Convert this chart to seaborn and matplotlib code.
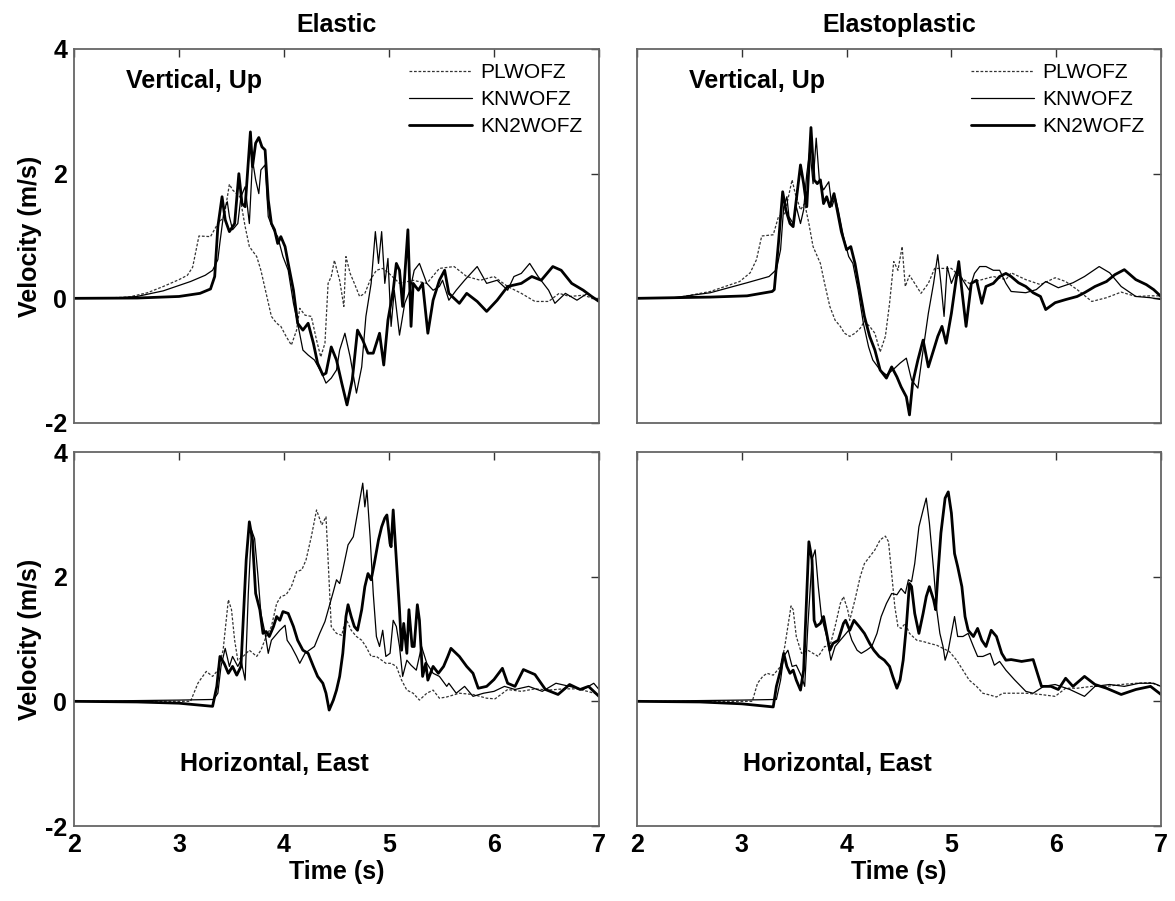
import matplotlib
matplotlib.use("Agg")
import matplotlib.pyplot as plt
import seaborn as sns
import pandas as pd

# ---------------- data (time s, velocity m/s) ----------------
# Elastic, vertical
EV_PL = [(2.0,0),(2.3,0.005),(2.52,0.02),(2.7,0.09),(2.85,0.19),(3.0,0.3),(3.08,0.37),(3.13,0.5),(3.19,1.0),(3.3,0.99),
         (3.37,1.2),(3.43,1.31),(3.48,1.83),(3.51,1.74),(3.58,1.63),(3.63,1.15),(3.67,0.83),(3.74,0.67),(3.78,0.45),(3.83,0.08),
         (3.88,-0.29),(3.93,-0.4),(3.97,-0.45),(4.02,-0.61),(4.07,-0.75),(4.12,-0.51),(4.15,-0.16),(4.2,-0.27),(4.26,-0.29),(4.31,-0.67),
         (4.35,-0.94),(4.39,-0.72),(4.42,0.24),(4.45,0.35),(4.48,0.61),(4.53,0.29),(4.57,-0.13),(4.59,0.67),(4.63,0.4),(4.67,0.24),
         (4.72,0.03),(4.77,0.08),(4.82,0.29),(4.88,0.45),(4.94,0.48),(5.0,0.4),(5.1,0.24),(5.23,0.29),(5.36,0.24),(5.48,0.48),
         (5.62,0.51),(5.74,0.35),(5.87,0.29),(6.0,0.35),(6.13,0.19),(6.26,0.08),(6.39,-0.05),(6.52,-0.05),(6.62,0.08),(6.72,0.03),
         (6.85,0.05),(7.0,-0.03)]
EV_KN = [(2.0,0),(2.4,0.005),(2.6,0.03),(2.85,0.12),(3.11,0.27),(3.25,0.37),(3.32,0.45),(3.37,0.62),(3.39,0.9),(3.43,1.42),
         (3.46,1.55),(3.48,1.31),(3.51,1.1),(3.56,1.2),(3.59,1.63),(3.63,1.79),(3.67,1.2),(3.7,2.22),(3.73,1.9),(3.76,1.68),
         (3.78,2.06),(3.82,2.14),(3.85,1.31),(3.9,1.1),(3.94,0.99),(3.99,0.67),(4.04,0.45),(4.09,-0.08),(4.13,-0.4),(4.18,-0.83),
         (4.23,-0.91),(4.29,-0.99),(4.36,-1.2),(4.4,-1.36),(4.45,-1.28),(4.5,-1.15),(4.53,-0.83),(4.58,-0.56),(4.63,-0.94),(4.69,-1.52),
         (4.74,-1.1),(4.78,-0.29),(4.83,0.24),(4.87,1.07),(4.9,0.56),(4.93,1.07),(4.96,0.24),(4.99,0.64),(5.02,-0.45),(5.05,0.13),
         (5.1,-0.59),(5.15,-0.08),(5.2,0.13),(5.24,0.45),(5.29,0.56),(5.36,0.24),(5.42,0.13),(5.48,0.19),(5.51,0.29),(5.57,-0.03),
         (5.64,0.13),(5.72,0.29),(5.84,0.51),(5.93,0.24),(6.03,0.29),(6.13,0.13),(6.19,0.35),(6.26,0.4),(6.34,0.56),(6.42,0.35),
         (6.52,0.13),(6.58,-0.08),(6.68,0.08),(6.79,-0.03),(6.89,0.08),(7.0,-0.05)]
EV_KN2 = [(2.0,0),(2.6,0.005),(3.0,0.03),(3.2,0.08),(3.3,0.15),(3.34,0.35),(3.37,1.15),(3.41,1.63),(3.44,1.26),(3.48,1.07),
          (3.53,1.2),(3.57,2.0),(3.6,1.52),(3.63,1.47),(3.68,2.67),(3.7,2.11),(3.73,2.49),(3.76,2.58),(3.79,2.43),(3.82,2.38),
          (3.85,1.58),(3.88,1.2),(3.91,1.1),(3.94,0.88),(3.97,0.99),(4.01,0.83),(4.04,0.56),(4.09,0.13),(4.13,-0.4),(4.18,-0.51),
          (4.23,-0.4),(4.28,-0.72),(4.32,-1.04),(4.37,-1.23),(4.4,-1.2),(4.45,-0.78),(4.5,-0.99),(4.55,-1.36),(4.6,-1.71),(4.65,-1.31),
          (4.7,-0.51),(4.75,-0.67),(4.8,-0.88),(4.85,-0.88),(4.91,-0.56),(4.95,-1.07),(4.99,-0.35),(5.04,0.13),(5.07,0.56),(5.1,0.45),
          (5.13,-0.13),(5.18,1.1),(5.21,-0.45),(5.23,0.24),(5.28,0.13),(5.32,0.24),(5.37,-0.56),(5.42,-0.03),(5.48,0.29),(5.53,0.45),
          (5.57,0.08),(5.67,-0.08),(5.74,0.08),(5.84,-0.05),(5.93,-0.21),(6.03,-0.03),(6.13,0.19),(6.26,0.24),(6.36,0.35),(6.45,0.29),
          (6.56,0.51),(6.64,0.45),(6.74,0.24),(6.85,0.13),(6.93,0.03),(7.0,-0.05)]

# Elastoplastic, vertical
EP_PL = [(2.0,0),(2.35,0.0),(2.7,0.11),(2.98,0.27),(3.08,0.41),(3.14,0.62),(3.19,1.0),(3.3,1.02),(3.35,1.31),(3.41,1.36),
         (3.48,1.9),(3.51,1.68),(3.56,1.42),(3.6,1.52),(3.64,1.2),(3.68,0.83),(3.75,0.56),(3.79,0.24),(3.84,-0.13),(3.89,-0.35),
         (3.94,-0.45),(3.98,-0.56),(4.03,-0.61),(4.08,-0.56),(4.13,-0.48),(4.17,-0.37),(4.22,-0.45),(4.27,-0.56),(4.32,-0.86),(4.37,-0.61),
         (4.41,-0.08),(4.45,0.59),(4.49,0.45),(4.53,0.83),(4.56,0.19),(4.6,0.37),(4.65,0.24),(4.71,0.08),(4.78,0.24),(4.84,0.48),
         (4.92,0.48),(5.0,0.48),(5.08,0.35),(5.17,0.24),(5.27,0.29),(5.4,0.35),(5.52,0.3),(5.57,0.41),(5.71,0.3),(5.85,0.22),
         (5.99,0.33),(6.09,0.27),(6.2,0.14),(6.34,-0.05),(6.48,0.01),(6.62,0.1),(6.76,0.03),(6.9,0.04),(7.0,0.04)]
EP_KN = [(2.0,0),(2.35,0.01),(2.7,0.09),(3.05,0.25),(3.26,0.35),(3.33,0.46),(3.37,0.78),(3.4,1.47),(3.43,1.63),(3.45,1.31),
         (3.49,1.2),(3.52,1.47),(3.56,1.2),(3.59,1.42),(3.62,2.0),(3.65,2.38),(3.68,1.84),(3.71,2.57),(3.74,1.9),(3.78,1.74),
         (3.83,1.87),(3.86,1.47),(3.89,1.63),(3.92,1.42),(3.97,0.99),(4.02,0.67),(4.06,0.56),(4.11,0.13),(4.16,-0.4),(4.21,-0.78),
         (4.25,-0.99),(4.32,-1.15),(4.38,-1.23),(4.44,-1.15),(4.51,-1.04),(4.57,-0.96),(4.62,-1.31),(4.68,-1.44),(4.73,-0.83),(4.78,-0.24),
         (4.83,0.24),(4.87,0.7),(4.9,0.24),(4.93,-0.29),(4.96,0.51),(5.0,0.24),(5.05,0.45),(5.11,0.29),(5.17,0.13),(5.22,0.4),
         (5.27,0.51),(5.33,0.51),(5.4,0.45),(5.46,0.45),(5.52,0.24),(5.57,0.11),(5.71,0.09),(5.81,0.14),(5.9,0.27),(6.02,0.17),
         (6.16,0.25),(6.27,0.35),(6.41,0.51),(6.51,0.41),(6.62,0.19),(6.76,0.03),(6.9,0.01),(7.0,-0.02)]
EP_KN2 = [(2.0,0),(2.7,0.02),(3.05,0.04),(3.29,0.11),(3.31,0.14),(3.35,0.89),(3.39,1.71),(3.42,1.42),(3.46,1.2),(3.49,1.15),
          (3.52,1.58),(3.56,2.14),(3.59,1.84),(3.62,1.47),(3.66,2.74),(3.69,1.9),(3.72,1.84),(3.75,1.9),(3.78,1.52),(3.81,1.63),
          (3.84,1.47),(3.88,1.68),(3.91,1.42),(3.95,1.07),(4.0,0.78),(4.04,0.83),(4.08,0.56),(4.13,0.08),(4.17,-0.29),(4.22,-0.61),
          (4.27,-0.83),(4.32,-1.15),(4.38,-1.28),(4.43,-1.1),(4.48,-1.26),(4.52,-1.42),(4.57,-1.58),(4.6,-1.87),(4.63,-1.36),(4.68,-0.99),
          (4.73,-0.67),(4.78,-1.1),(4.83,-0.83),(4.87,-0.61),(4.91,-0.45),(4.95,-0.72),(5.0,-0.24),(5.04,0.24),(5.07,0.59),(5.1,0.13),
          (5.14,-0.45),(5.19,0.24),(5.24,0.29),(5.29,-0.08),(5.33,0.19),(5.4,0.24),(5.46,0.35),(5.52,0.4),(5.57,0.35),(5.64,0.25),
          (5.71,0.19),(5.78,0.09),(5.85,0.03),(5.9,-0.18),(5.99,-0.07),(6.09,-0.02),(6.2,0.03),(6.27,0.09),(6.37,0.19),(6.48,0.27),
          (6.56,0.38),(6.65,0.46),(6.76,0.3),(6.86,0.22),(6.93,0.14),(7.0,0.03)]

# Elastic, horizontal east
EH_PL = [(2.0,0),(3.11,0),(3.18,0.29),(3.2,0.34),(3.26,0.48),(3.32,0.4),(3.37,0.5),(3.42,0.82),(3.47,1.63),(3.5,1.47),
         (3.53,0.98),(3.56,0.66),(3.61,0.72),(3.67,0.82),(3.74,0.72),(3.78,0.82),(3.83,1.04),(3.88,1.2),(3.93,1.57),(3.97,1.68),
         (4.02,1.71),(4.07,1.84),(4.12,2.08),(4.17,2.11),(4.21,2.27),(4.26,2.64),(4.31,3.07),(4.36,2.83),(4.4,2.96),(4.42,2.27),
         (4.45,1.2),(4.5,1.09),(4.55,1.06),(4.59,1.33),(4.64,1.14),(4.69,1.04),(4.74,0.98),(4.78,0.88),(4.83,0.72),(4.88,0.72),
         (4.93,0.66),(4.97,0.61),(5.02,0.61),(5.07,0.56),(5.12,0.34),(5.17,0.18),(5.23,0.13),(5.29,0.02),(5.36,0.13),(5.42,0.18),
         (5.48,0.05),(5.55,0.07),(5.67,0.13),(5.8,0.11),(5.93,0.05),(6.01,0.04),(6.13,0.19),(6.26,0.16),(6.39,0.2),(6.52,0.18),
         (6.66,0.2),(6.79,0.2),(6.89,0.16),(7.0,0.11)]
EH_KN = [(2.0,0),(3.0,0.02),(3.33,0.03),(3.37,0.13),(3.4,0.56),(3.44,0.85),(3.48,0.56),(3.51,0.72),(3.56,0.56),(3.59,0.66),
         (3.63,0.34),(3.66,1.73),(3.69,2.75),(3.72,2.61),(3.75,2.05),(3.78,1.41),(3.82,1.09),(3.85,0.77),(3.88,0.98),(3.91,1.04),
         (3.96,1.14),(4.01,1.22),(4.03,0.98),(4.07,0.88),(4.12,0.72),(4.15,0.61),(4.2,0.77),(4.24,0.82),(4.29,0.88),(4.34,1.09),
         (4.39,1.28),(4.43,1.52),(4.47,1.76),(4.5,1.95),(4.53,1.89),(4.56,2.11),(4.61,2.51),(4.66,2.64),(4.7,3.02),(4.75,3.5),
         (4.77,3.12),(4.79,3.39),(4.82,2.64),(4.85,1.73),(4.88,1.04),(4.91,0.88),(4.94,1.14),(4.97,0.72),(5.01,0.77),(5.04,1.3),
         (5.07,1.2),(5.1,0.88),(5.13,0.4),(5.17,0.66),(5.21,0.58),(5.26,0.5),(5.31,0.88),(5.36,0.61),(5.42,0.45),(5.48,0.4),
         (5.55,0.24),(5.57,0.29),(5.64,0.13),(5.72,0.24),(5.8,0.08),(5.9,0.13),(6.0,0.16),(6.1,0.24),(6.2,0.19),(6.33,0.24),
         (6.46,0.16),(6.59,0.29),(6.72,0.24),(6.85,0.19),(6.95,0.29),(7.0,0.19)]
EH_KN2 = [(2.0,0),(2.6,-0.01),(3.0,-0.03),(3.32,-0.08),(3.36,0.24),(3.39,0.72),(3.43,0.61),(3.47,0.45),(3.51,0.56),(3.55,0.42),
          (3.59,0.56),(3.64,2.27),(3.67,2.88),(3.7,2.59),(3.73,1.73),(3.77,1.47),(3.8,1.09),(3.83,1.12),(3.86,1.04),(3.9,1.2),
          (3.93,1.36),(3.96,1.3),(3.99,1.44),(4.04,1.41),(4.09,1.2),(4.13,0.98),(4.18,0.82),(4.23,0.77),(4.28,0.56),(4.32,0.4),
          (4.37,0.29),(4.4,0.13),(4.43,-0.14),(4.47,0.02),(4.5,0.18),(4.53,0.4),(4.56,0.77),(4.59,1.36),(4.61,1.55),(4.64,1.36),
          (4.67,1.2),(4.7,1.14),(4.74,1.47),(4.77,1.84),(4.8,2.05),(4.83,1.95),(4.86,2.21),(4.9,2.59),(4.93,2.8),(4.96,2.94),
          (4.98,2.99),(5.01,2.53),(5.02,2.48),(5.04,3.07),(5.07,2.27),(5.1,1.47),(5.12,0.82),(5.14,1.25),(5.17,0.77),(5.19,1.47),
          (5.22,0.88),(5.24,0.88),(5.27,1.55),(5.29,1.3),(5.32,0.4),(5.35,0.61),(5.37,0.34),(5.42,0.56),(5.47,0.45),(5.52,0.56),
          (5.56,0.72),(5.59,0.85),(5.67,0.72),(5.74,0.56),(5.8,0.45),(5.85,0.21),(5.93,0.24),(6.0,0.35),(6.08,0.53),(6.13,0.29),
          (6.2,0.24),(6.28,0.51),(6.39,0.43),(6.49,0.19),(6.61,0.11),(6.72,0.27),(6.82,0.19),(6.9,0.24),(7.0,0.08)]

# Elastoplastic, horizontal east
PH_PL = [(2.0,0),(3.1,0),(3.15,0.29),(3.2,0.4),(3.24,0.45),(3.3,0.42),(3.37,0.56),(3.41,0.88),(3.47,1.53),(3.49,1.47),
         (3.52,1.04),(3.57,0.77),(3.63,0.82),(3.68,0.77),(3.73,0.72),(3.79,0.88),(3.84,0.88),(3.89,1.2),(3.94,1.57),(3.97,1.68),
         (4.01,1.47),(4.03,1.3),(4.08,1.63),(4.13,2.0),(4.17,2.21),(4.22,2.32),(4.27,2.43),(4.32,2.59),(4.37,2.65),(4.4,2.56),
         (4.43,2.05),(4.46,1.52),(4.49,1.2),(4.52,1.17),(4.56,1.25),(4.6,1.09),(4.67,0.98),(4.73,0.96),(4.79,0.93),(4.86,0.9),
         (4.92,0.85),(4.98,0.8),(5.05,0.66),(5.11,0.5),(5.17,0.34),(5.24,0.24),(5.3,0.13),(5.37,0.1),(5.43,0.07),(5.49,0.13),
         (5.57,0.13),(5.71,0.13),(5.85,0.11),(5.99,0.08),(6.09,0.21),(6.2,0.21),(6.34,0.24),(6.48,0.24),(6.62,0.27),(6.76,0.29),
         (6.9,0.3),(7.0,0.24)]
PH_KN = [(2.0,0),(3.0,0.02),(3.33,0.03),(3.37,0.34),(3.4,0.72),(3.44,0.82),(3.48,0.56),(3.52,0.58),(3.57,0.4),(3.6,0.24),
         (3.63,1.2),(3.67,2.27),(3.7,2.43),(3.73,1.84),(3.76,1.36),(3.81,1.04),(3.85,0.66),(3.89,0.88),(3.94,0.98),(3.98,1.06),
         (4.02,1.14),(4.05,0.98),(4.1,0.82),(4.14,0.77),(4.19,0.82),(4.24,0.88),(4.29,1.09),(4.33,1.36),(4.38,1.57),(4.43,1.73),
         (4.48,1.71),(4.52,1.81),(4.56,1.73),(4.59,1.95),(4.62,1.92),(4.65,2.21),(4.69,2.8),(4.73,3.07),(4.76,3.26),(4.79,2.86),
         (4.83,2.11),(4.86,1.47),(4.89,1.09),(4.92,0.88),(4.94,0.66),(4.97,0.82),(5.0,1.09),(5.03,1.36),(5.06,1.04),(5.11,1.04),
         (5.16,1.09),(5.21,0.88),(5.25,0.72),(5.3,0.72),(5.37,0.77),(5.41,0.58),(5.46,0.64),(5.52,0.5),(5.6,0.35),(5.71,0.16),
         (5.78,0.13),(5.88,0.24),(5.99,0.27),(6.13,0.19),(6.27,0.08),(6.37,0.24),(6.51,0.27),(6.65,0.24),(6.79,0.29),(6.93,0.29),
         (7.0,0.24)]
PH_KN2 = [(2.0,0),(2.6,-0.01),(3.0,-0.04),(3.3,-0.09),(3.33,0.24),(3.37,0.5),(3.4,0.77),(3.43,0.56),(3.46,0.45),(3.49,0.5),
          (3.52,0.34),(3.56,0.18),(3.59,0.5),(3.62,1.73),(3.64,2.56),(3.67,2.27),(3.69,1.3),(3.71,1.2),(3.75,1.25),(3.78,1.36),
          (3.81,1.09),(3.84,0.82),(3.87,0.93),(3.92,0.98),(3.97,1.25),(3.99,1.3),(4.03,1.14),(4.07,1.3),(4.12,1.2),(4.17,1.09),
          (4.22,0.93),(4.26,0.82),(4.31,0.72),(4.36,0.66),(4.41,0.56),(4.44,0.4),(4.48,0.21),(4.51,0.34),(4.54,0.66),(4.57,1.2),
          (4.6,1.89),(4.62,1.84),(4.65,1.41),(4.69,1.09),(4.73,1.41),(4.76,1.68),(4.79,1.84),(4.83,1.63),(4.85,1.47),(4.87,2.0),
          (4.9,2.7),(4.94,3.26),(4.97,3.36),(5.0,3.02),(5.03,2.37),(5.06,2.16),(5.1,1.84),(5.13,1.36),(5.16,1.14),(5.21,1.04),
          (5.25,1.17),(5.29,0.98),(5.33,0.88),(5.38,1.14),(5.43,1.04),(5.48,0.77),(5.52,0.66),(5.57,0.67),(5.67,0.64),(5.78,0.67),
          (5.83,0.4),(5.86,0.24),(5.95,0.24),(6.02,0.19),(6.09,0.37),(6.16,0.24),(6.27,0.4),(6.37,0.27),(6.48,0.21),(6.62,0.11),
          (6.76,0.19),(6.9,0.24),(7.0,0.11)]

SERIES_NAMES = ["PLWOFZ", "KNWOFZ", "KN2WOFZ"]
COL_TITLES = ["Elastic", "Elastoplastic"]
ROW_LABELS = ["Vertical, Up", "Horizontal, East"]
X_TICKS = [2, 3, 4, 5, 6, 7]
Y_TICKS = [-2, 0, 2, 4]

PANELS = {
    (0, 0): [EV_PL, EV_KN, EV_KN2],
    (0, 1): [EP_PL, EP_KN, EP_KN2],
    (1, 0): [EH_PL, EH_KN, EH_KN2],
    (1, 1): [PH_PL, PH_KN, PH_KN2],
}

# ---------------- style ----------------
sns.set_theme(style="white")
plt.rcParams['font.family'] = ['Liberation Sans', 'DejaVu Sans']
plt.rcParams['font.weight'] = 'bold'
plt.rcParams['axes.unicode_minus'] = False
for k in ['text.color', 'axes.labelcolor', 'xtick.color', 'ytick.color']:
    plt.rcParams[k] = 'black'

BIG = 18
LINE_STYLES = [
    dict(color="#333333", linewidth=0.9, linestyle=(0, (2.2, 1.4))),
    dict(color="black", linewidth=0.9, linestyle="-"),
    dict(color="black", linewidth=2.0, linestyle="-"),
]

W, H = 1175, 901
fig = plt.figure(figsize=(W / 100, H / 100), dpi=100)

lefts = [74 / W, 637 / W]
widths = [525 / W, 524 / W]
tops = [49, 452]
ph = 374

for (r, c), series in PANELS.items():
    ax = fig.add_axes([lefts[c], 1 - (tops[r] + ph) / H, widths[c], ph / H])
    for name, data, st in zip(SERIES_NAMES, series, LINE_STYLES):
        df = pd.DataFrame(data, columns=["t", "v"])
        sns.lineplot(data=df, x="t", y="v", ax=ax, estimator=None, sort=False,
                     label=name, **st)
    ax.set_xlim(2, 7)
    ax.set_ylim(-2, 4)
    ax.set_xticks(X_TICKS)
    ax.set_yticks(Y_TICKS)
    ax.tick_params(direction="in", top=True, right=True, length=6, width=1,
                   color="#333333", labelsize=BIG, pad=5)
    for lab in ax.get_xticklabels() + ax.get_yticklabels():
        lab.set_fontweight("bold")
    for sp in ax.spines.values():
        sp.set_color("#666666")
        sp.set_linewidth(1.3)
    if c == 0:
        ax.set_ylabel("Velocity (m/s)", fontsize=BIG, fontweight="bold", labelpad=2)
    else:
        ax.set_ylabel("")
        ax.tick_params(labelleft=False)
    if r == 1:
        ax.set_xlabel("Time (s)", fontsize=BIG, fontweight="bold", labelpad=2)
    else:
        ax.set_xlabel("")
        ax.tick_params(labelbottom=False)
        ax.set_title(COL_TITLES[c], fontsize=BIG, fontweight="bold", pad=12)
    if r == 0:
        ax.text(2.5, 3.49, ROW_LABELS[0], fontsize=BIG, fontweight="bold",
                ha="left", va="center")
        leg = ax.legend(loc="upper right", bbox_to_anchor=(0.968, 0.962),
                        frameon=False, fontsize=15, handlelength=3.0,
                        handletextpad=0.4, labelspacing=0.38, borderaxespad=0,
                        borderpad=0)
        for t in leg.get_texts():
            t.set_fontweight("normal")
    else:
        ax.text(3.01, -1.01, ROW_LABELS[1], fontsize=BIG, fontweight="bold",
                ha="left", va="center")
        ax.get_legend().remove()

fig.savefig("out.png", dpi=100)
